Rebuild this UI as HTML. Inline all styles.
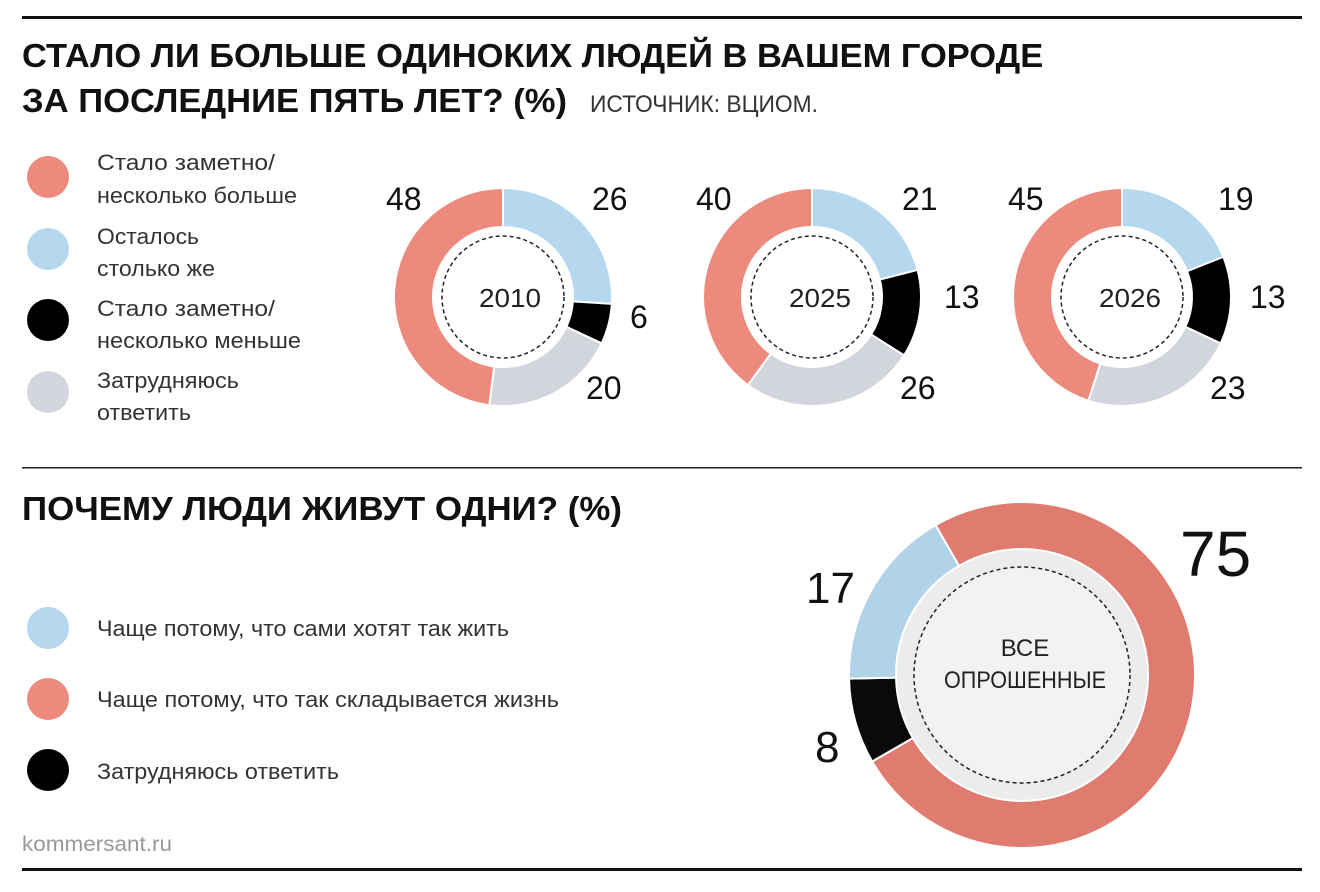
<!DOCTYPE html>
<html><head><meta charset="utf-8"><style>
body{margin:0;background:#fff;width:1320px;height:892px;overflow:hidden;font-family:"Liberation Sans",sans-serif}
svg{display:block}
</style></head><body>
<svg id="s" width="1320" height="892" xmlns="http://www.w3.org/2000/svg" font-family="Liberation Sans, sans-serif">
<rect x="22" y="16" width="1280" height="3" fill="#111"/>
<rect x="22" y="467" width="1280" height="1.5" fill="#222"/>
<rect x="22" y="868" width="1280" height="3" fill="#111"/>
<g font-weight="bold" font-size="33" fill="#111">
<text x="22" y="67" transform="translate(22,0) scale(0.92,1) translate(-22,0)" textLength="1110" lengthAdjust="spacingAndGlyphs">СТАЛО ЛИ БОЛЬШЕ ОДИНОКИХ ЛЮДЕЙ В ВАШЕМ ГОРОДЕ</text>
<text x="22" y="112" textLength="545" lengthAdjust="spacingAndGlyphs">ЗА ПОСЛЕДНИЕ ПЯТЬ ЛЕТ? (%)</text>
<text x="22" y="520" textLength="600" lengthAdjust="spacingAndGlyphs">ПОЧЕМУ ЛЮДИ ЖИВУТ ОДНИ? (%)</text>
</g>
<text x="590" y="112" font-size="24" fill="#333" textLength="228" lengthAdjust="spacingAndGlyphs">ИСТОЧНИК: ВЦИОМ.</text>
<g font-size="22" fill="#333">
<circle cx="48" cy="177" r="21" fill="#ec8a7e"/>
<text x="97" y="170" textLength="178" lengthAdjust="spacingAndGlyphs">Стало заметно/</text>
<text x="97" y="203" textLength="200" lengthAdjust="spacingAndGlyphs">несколько больше</text>
<circle cx="48" cy="249" r="21" fill="#b5d8ee"/>
<text x="97" y="244" textLength="102" lengthAdjust="spacingAndGlyphs">Осталось</text>
<text x="97" y="276" textLength="118" lengthAdjust="spacingAndGlyphs">столько же</text>
<circle cx="48" cy="320" r="21" fill="#000"/>
<text x="97" y="316" textLength="178" lengthAdjust="spacingAndGlyphs">Стало заметно/</text>
<text x="97" y="348" textLength="204" lengthAdjust="spacingAndGlyphs">несколько меньше</text>
<circle cx="48" cy="392" r="21" fill="#d3d5dc"/>
<text x="97" y="388" textLength="142" lengthAdjust="spacingAndGlyphs">Затрудняюсь</text>
<text x="97" y="420" textLength="94" lengthAdjust="spacingAndGlyphs">ответить</text>
<circle cx="48" cy="628" r="21" fill="#b5d8ee"/>
<text x="97" y="636" textLength="412" lengthAdjust="spacingAndGlyphs">Чаще потому, что сами хотят так жить</text>
<circle cx="48" cy="699" r="21" fill="#ec8a7e"/>
<text x="97" y="707" textLength="462" lengthAdjust="spacingAndGlyphs">Чаще потому, что так складывается жизнь</text>
<circle cx="48" cy="770" r="21" fill="#000"/>
<text x="97" y="779" textLength="242" lengthAdjust="spacingAndGlyphs">Затрудняюсь ответить</text>
</g>
<text x="22" y="851" font-size="21" fill="#999" textLength="150" lengthAdjust="spacingAndGlyphs">kommersant.ru</text>
<g id="d"></g>
<g font-size="32" fill="#111">
<text x="386" y="210">48</text><text x="592" y="210">26</text><text x="630" y="328">6</text><text x="586" y="399">20</text>
<text x="696" y="210">40</text><text x="902" y="210">21</text><text x="944" y="308">13</text><text x="900" y="399">26</text>
<text x="1008" y="210">45</text><text x="1218" y="210">19</text><text x="1250" y="308">13</text><text x="1210" y="399">23</text>
<text x="1180" y="576" font-size="64">75</text>
<text x="806" y="603" font-size="44">17</text>
<text x="815" y="762" font-size="44">8</text>
</g>
<g font-size="26" fill="#222" text-anchor="middle">
<text x="510" y="307" textLength="62" lengthAdjust="spacingAndGlyphs">2010</text>
<text x="820" y="307" textLength="62" lengthAdjust="spacingAndGlyphs">2025</text>
<text x="1130" y="307" textLength="62" lengthAdjust="spacingAndGlyphs">2026</text>
<text x="1025" y="656" font-size="24">ВСЕ</text>
<text x="1025" y="688" font-size="24" textLength="162" lengthAdjust="spacingAndGlyphs">ОПРОШЕННЫЕ</text>
</g>
</svg>
<script>
function P(cx,cy,R,r,a0,a1){const t=a=>a*Math.PI/180;const p=(rr,a)=>[cx+rr*Math.sin(t(a)),cy-rr*Math.cos(t(a))];
const l=(a1-a0)>180?1:0;const A=p(R,a0),B=p(R,a1),C=p(r,a1),D=p(r,a0);
return `M${A}A${R},${R} 0 ${l} 1 ${B}L${C}A${r},${r} 0 ${l} 0 ${D}Z`;}
let h='';
function donut(cx,cy,R,r,vals,cols,dash,start){let a=start;vals.forEach((v,i)=>{const b=a+v*3.6;h+=`<path d="${P(cx,cy,R,r,a,b)}" fill="${cols[i]}" stroke="#fff" stroke-width="2"/>`;a=b;});}
const c=['#b5d8ee','#000','#d3d5dc','#ec8a7e'];
donut(503,297,109,70,[26,6,20,48],c,0,0);
donut(812,297,109,70,[21,13,26,40],c,0,0);
donut(1122,297,109,70,[19,13,23,45],c,0,0);
[[503],[812],[1122]].forEach(([x])=>{h+=`<circle cx="${x}" cy="297" r="61" fill="none" stroke="#222" stroke-width="1.5" stroke-dasharray="4 3"/>`;});
h+=`<circle cx="1022" cy="675" r="126" fill="#ececec"/>`;
donut(1022,675,173,126,[75,8,17],['#e07b70','#0a0a0a','#b0d3ea'],0,330);
h+=`<circle cx="1022" cy="675" r="108" fill="#f2f2f2" stroke="#222" stroke-width="1.5" stroke-dasharray="4 3"/>`;
document.getElementById('d').innerHTML=h;
</script>
</body></html>
